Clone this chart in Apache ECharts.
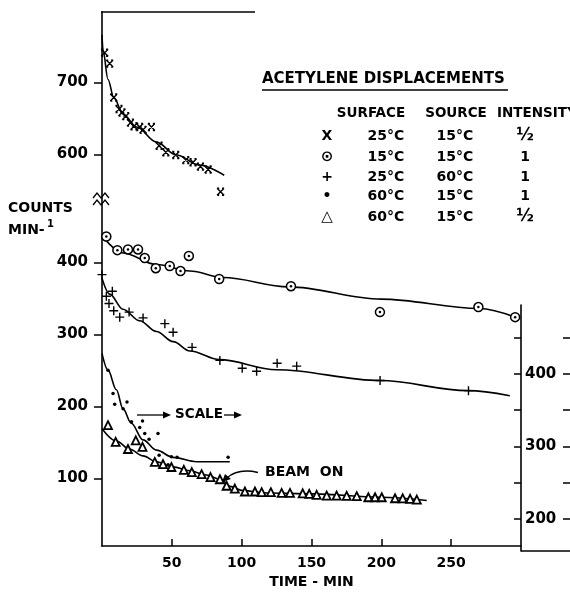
<!DOCTYPE html>
<html>
<head>
<meta charset="utf-8">
<script src="https://cdn.jsdelivr.net/npm/echarts@6/dist/echarts.min.js"></script>
<style>html,body{margin:0;padding:0;background:#fff}#c{width:570px;height:594px}</style>
</head>
<body>
<div id="c"></div>
<script>
// ---- data: [time (min), counts/min] ----
// X: surface 25°C, source 15°C, intensity 1/2 (values on the upper, broken scale)
const crossPts = [[1.9,741],[5.5,726],[8.4,679],[12.2,663],[14.3,658],[17,653],[20.4,644],[22.9,639],[27,638],[29.4,634],[35.4,638],[40.9,612],[45.7,603],[52.8,599],[60,592],[65.2,589],[70.5,583],[76,579],[84.9,548]];
const crossFit = [[0,766],[0.7,745],[4.3,704],[8.4,679],[15.1,656],[24.7,638],[39,617],[53.3,599],[70,585],[87.5,571]];
// circle-dot: surface 15°C, source 15°C, intensity 1
const circlePts = [[3.1,436],[11,417],[18.6,418],[25.8,418],[30.6,406],[38.5,392],[48.5,395],[56.2,388],[62.2,409],[83.9,377],[135.3,367],[199,331],[269.5,338],[295.8,324]];
const circleFit = [[0,437],[15,413],[39,397],[62.9,388],[86.7,379],[133.8,366],[200,349],[270,336],[296,324]];
// plus: surface 25°C, source 60°C, intensity 1
const plusPts = [[0,383],[3.1,353],[5,343],[7.4,360],[8.4,333],[12.7,324],[19.4,331],[29.4,323],[45,315],[50.9,303],[64.5,282],[84.4,264],[100.4,253],[110.7,249],[125.4,260],[139.4,256],[199.1,236],[262.4,222]];
const plusFit = [[0,378],[5.5,356],[15,335],[27,319],[39,304],[51,290],[63,277],[84,265],[125,251],[199,236],[262,222],[292,215]];
// dot: surface 60°C, source 15°C, intensity 1 (values on the right-hand scale)
const dotPts = [[4.3,405],[7.9,373],[9.1,358],[15.1,352],[17.9,361],[21.1,334],[27,326],[29,335],[30.6,318],[33.7,310],[40.1,318],[40.9,288],[47.3,275],[49.7,286],[53.8,285],[90.3,285]];
const dotFit = [[0,428],[4.3,405],[10.3,378],[15,352],[21,332],[29.4,309],[39,295],[50.9,285],[67.7,279],[91.5,279]];
// triangle: surface 60°C, source 15°C, intensity 1/2
const triPts = [[4.3,174],[9.8,151],[18.6,141],[24.2,153],[29,144],[37.8,123],[43.7,120],[49.7,116],[58.6,112],[64.3,109],[71.3,106],[77.7,102],[84.4,99],[89.2,90],[95.1,86],[102.3,82],[109.5,82],[114.3,81],[120.9,81],[128.6,80],[134.6,80],[143.7,79.5],[148.4,78.7],[153.7,77.3],[160.9,76.3],[168,76.3],[175.2,76],[182.4,75.5],[190.7,74],[195.5,74],[200.3,74],[209.8,72.6],[215.3,72.5],[220.6,71.8],[225.4,70.8]];
const triFit = [[0,169],[10.3,152],[19.9,140.6],[29.4,131.4],[39,123.1],[50.9,116.2],[62.9,110.7],[74.8,104.8],[85.6,98.3],[91.5,89.1],[101,83.2],[117.8,80],[151.3,78.7],[199,74],[232.5,69.5]];

// ---- ticks ----
const xTicks = [50,100,150,200,250];
const yTicksLower = [100,200,300,400];
const yTicksUpper = [600,700];
const BREAK_OFFSET = 50;      // upper scale = lower scale + 50
const rightTicks = [200,300,400];
const rightMinorTicks = [200,250,300,350,400,450];

// ---- legend table ----
const legendGlyphs = ['X','⊙','+','•','△'];
const legendSurface = ['25°C','15°C','25°C','60°C','60°C'];
const legendSource = ['15°C','15°C','60°C','15°C','15°C'];
const legendIntensity = ['½','1','1','1','½'];

const FF = '"DejaVu Sans"';
const K = '#000';
const upperPos = yTicksUpper.map(v => v - BREAK_OFFSET);
const yTickVals = yTicksLower.concat(upperPos);

const chart = echarts.init(document.getElementById('c'), null, {renderer:'canvas'});

function lineSeries(data, xi, yi) {
  return {type:'line', xAxisIndex:xi, yAxisIndex:yi, data:data, smooth:0.35, smoothMonotone:'x',
    showSymbol:false, silent:true, lineStyle:{color:K, width:1.6}, z:2};
}
function scat(data, xi, yi, symbol, size, fill, bw, z) {
  return {type:'scatter', xAxisIndex:xi, yAxisIndex:yi, data:data, symbol:symbol, symbolSize:size,
    silent:true, itemStyle:{color:fill, borderColor:K, borderWidth:bw, opacity:1}, z:z||3};
}

const graphics = [];
function txt(x, y, s, size, align, extra) {
  graphics.push(Object.assign({type:'text', x:x, y:y, silent:true,
    style:{text:s, font:'bold ' + size + 'px ' + FF, fill:K, textAlign:align||'left', textVerticalAlign:'middle'}}, extra||{}));
}
function seg(pts, w) {
  graphics.push({type:'polyline', silent:true, shape:{points:pts}, style:{stroke:K, lineWidth:w||1.5, fill:null}});
}
function poly(pts) {
  graphics.push({type:'polygon', silent:true, shape:{points:pts}, style:{fill:K}});
}

// legend block
txt(262, 79, 'ACETYLENE DISPLACEMENTS', 15);
seg([[262,90],[508,90]], 1.6);
txt(371, 113, 'SURFACE', 13.5, 'center');
txt(456, 113, 'SOURCE', 13.5, 'center');
txt(497, 113, 'INTENSITY', 13.5, 'left');
const rowY = [136,157,177,196,217];
legendGlyphs.forEach((g,i) => {
  txt(327, rowY[i], g, i===1||i===4 ? 15 : 14, 'center');
  txt(386, rowY[i], legendSurface[i], 14, 'center');
  txt(455, rowY[i], legendSource[i], 14, 'center');
  txt(525, rowY[i], legendIntensity[i], legendIntensity[i]==='½' ? 17 : 14, 'center');
});

// y-axis title
txt(8, 208, 'COUNTS', 14);
txt(8, 230, 'MIN-', 14);
txt(47, 224, '1', 10);

// scale annotation
seg([[137,415],[168,415]], 1.3);
poly([[171,415],[163,411.5],[163,418.5]]);
txt(175, 414.5, 'SCALE', 13.5);
seg([[224,415],[239,415]], 1.3);
poly([[242,415],[234,411.5],[234,418.5]]);

// beam on annotation
txt(265, 472, 'BEAM  ON', 14);
graphics.push({type:'bezierCurve', silent:true, shape:{x1:258,y1:472.5,x2:227,y2:478,cpx1:238,cpy1:468}, style:{stroke:K, lineWidth:1.5, fill:null}});
poly([[222,482],[225,474],[231,479]]);

// axis break marks
seg([[93,198],[97,193],[101,198],[105,193],[109,198]], 1.3);
seg([[93,205],[97,200],[101,205],[105,200],[109,205]], 1.3);

// partial top frame and extension of baseline
seg([[101,12],[255,12]], 1.6);
seg([[521,551],[570,551]], 1.5);

const labelStyle = {color:K, fontFamily:FF, fontWeight:'bold', fontSize:14};

const option = {
  backgroundColor:'#fff',
  animation:false,
  grid:[
    {left:102, right:49, top:12, bottom:43},
    {left:102, right:49, top:305, bottom:43}
  ],
  xAxis:[
    {type:'value', gridIndex:0, min:0, max:300,
     axisLine:{show:true, onZero:false, lineStyle:{color:K, width:1.6}},
     axisTick:{show:true, inside:true, length:7, customValues:xTicks, lineStyle:{color:K, width:1.5}},
     axisLabel:Object.assign({customValues:xTicks, margin:10}, labelStyle),
     splitLine:{show:false},
     name:'TIME - MIN', nameLocation:'middle', nameGap:24,
     nameTextStyle:{color:K, fontFamily:FF, fontWeight:'bold', fontSize:14}},
    {type:'value', gridIndex:1, min:0, max:300, show:false, axisLine:{onZero:false}}
  ],
  yAxis:[
    {type:'value', gridIndex:0, min:6.2, max:747.6,
     axisLine:{show:true, onZero:false, lineStyle:{color:K, width:1.6}},
     axisTick:{show:true, inside:false, length:8, customValues:yTickVals, lineStyle:{color:K, width:1.5}},
     axisLabel:Object.assign({customValues:yTickVals, margin:14,
        formatter:v => String(v > 500 ? v + BREAK_OFFSET : v)}, labelStyle, {fontSize:15}),
     splitLine:{show:false}},
    {type:'value', gridIndex:1, position:'right', min:156.2, max:494.6,
     axisLine:{show:true, onZero:false, lineStyle:{color:K, width:1.6}},
     axisTick:{show:true, inside:true, length:7, customValues:rightMinorTicks, lineStyle:{color:K, width:1.5}},
     axisLabel:Object.assign({customValues:rightTicks, margin:4}, labelStyle, {fontSize:15}),
     splitLine:{show:false}},
    {type:'value', gridIndex:1, position:'right', offset:49, min:156.2, max:494.6,
     axisLine:{show:false, onZero:false},
     axisTick:{show:true, inside:true, length:7, customValues:rightMinorTicks, lineStyle:{color:K, width:1.5}},
     axisLabel:{show:false},
     splitLine:{show:false}}
  ],
  series:[
    lineSeries(crossFit.map(p => [p[0], p[1] - BREAK_OFFSET]), 0, 0),
    lineSeries(circleFit, 0, 0),
    lineSeries(plusFit, 0, 0),
    lineSeries(triFit, 0, 0),
    lineSeries(dotFit, 1, 1),
    scat(crossPts.map(p => [p[0], p[1] - BREAK_OFFSET]), 0, 0,
      'path://M0,0L10,10M10,0L0,10M0,0L3,0M7,0L10,0M0,10L3,10M7,10L10,10', 7, 'rgba(0,0,0,0)', 1.4),
    scat(circlePts, 0, 0, 'circle', 9, '#fff', 1.5),
    scat(circlePts, 0, 0, 'circle', 2.5, K, 0, 4),
    scat(plusPts, 0, 0, 'path://M5,0L5,10M0,5L10,5', 9, 'rgba(0,0,0,0)', 1.4),
    scat(dotPts, 1, 1, 'circle', 3.5, K, 0),
    scat(triPts, 0, 0, 'triangle', 8, '#fff', 1.8)
  ],
  graphic: graphics
};
chart.setOption(option);
</script>
</body>
</html>
